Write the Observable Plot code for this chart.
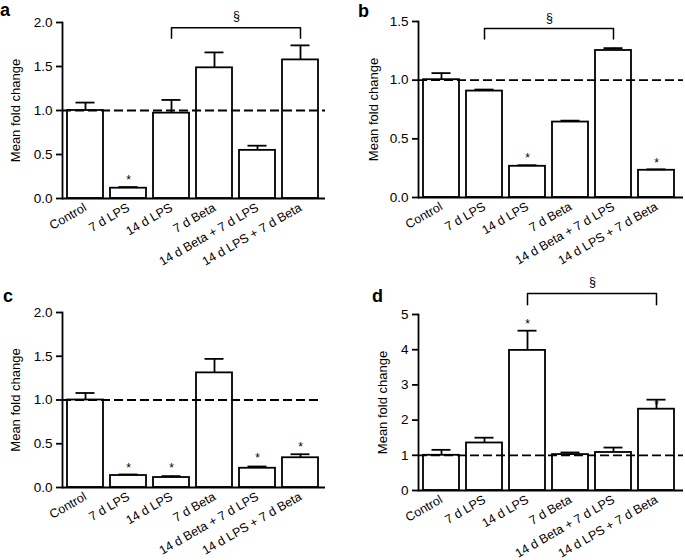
<!DOCTYPE html>
<html>
<head>
<meta charset="utf-8">
<script src="https://cdn.jsdelivr.net/npm/d3@7"></script>
<script src="https://cdn.jsdelivr.net/npm/@observablehq/plot@0.6"></script>
<style>
  body { margin: 0; background: white; }
  #root { position: relative; width: 685px; height: 560px; overflow: hidden; font-family: "Liberation Sans", Arial, Helvetica, sans-serif; }
  .panel { position: absolute; }
  .letter { position: absolute; font-weight: bold; font-size: 18px; line-height: 1; }
</style>
</head>
<body>
<div id="root"></div>
<script>
const categories = ["Control", "7 d LPS", "14 d LPS", "7 d Beta", "14 d Beta + 7 d LPS", "14 d LPS + 7 d Beta"];

const aMean = [1.00, 0.117, 0.97, 1.485, 0.547, 1.575];
const aErr  = [1.09, 0.13, 1.12, 1.66, 0.60, 1.74];
const aStar = [null, 0.24, null, null, null, null];

const bMean = [1.004, 0.907, 0.266, 0.643, 1.253, 0.232];
const bErr  = [1.06, 0.92, 0.275, 0.655, 1.273, 0.24];
const bStar = [null, null, 0.36, null, null, 0.315];

const cMean = [1.00, 0.137, 0.114, 1.31, 0.22, 0.34];
const cErr  = [1.08, 0.149, 0.13, 1.47, 0.24, 0.38];
const cStar = [null, 0.25, 0.25, null, 0.37, 0.49];

const dMean = [1.00, 1.35, 3.98, 1.02, 1.08, 2.31];
const dErr  = [1.155, 1.50, 4.54, 1.08, 1.22, 2.58];
const dStar = [null, null, 4.80, null, null, 2.51];

const yTicks2 = [0, 0.5, 1, 1.5, 2];
const yTicks15 = [0, 0.5, 1, 1.5];
const yTicks5 = [0, 1, 2, 3, 4, 5];

const bracketA = {from: "14 d LPS", to: "14 d LPS + 7 d Beta", mid: "7 d Beta", level: 1.94, drop: 1.82, sym: 2.07};
const bracketB = {from: "7 d LPS", to: "14 d Beta + 7 d LPS", mid: "14 d LPS", level: 1.44, drop: 1.35, sym: 1.53};
const bracketD = {from: "14 d LPS", to: "14 d LPS + 7 d Beta", mid: "7 d Beta", level: 5.60, drop: 5.28, sym: 5.91};

const SW = 1.8;

function panel(cfg) {
  const data = categories.map((c, i) => ({cat: c, mean: cfg.mean[i], err: cfg.err[i], star: cfg.star[i]}));
  const stars = data.filter(d => d.star != null);
  const br = cfg.bracket;
  const brPts = br ? [
    {x: br.from, y: br.drop}, {x: br.from, y: br.level},
    {x: br.to, y: br.level}, {x: br.to, y: br.drop}
  ] : [];
  const marks = [
    Plot.barY(data, {x: "cat", y: "mean", fill: "white", stroke: "black", strokeWidth: SW}),
    Plot.ruleX(data, {x: "cat", y1: "mean", y2: "err", stroke: "black", strokeWidth: SW}),
    Plot.tickY(data, {x: "cat", y: "err", stroke: "black", strokeWidth: SW, insetLeft: 8.5, insetRight: 8.5}),
    Plot.ruleY([1], {stroke: "black", strokeDasharray: "9,4", strokeWidth: SW, insetRight: -cfg.dashExtend}),
    Plot.ruleY([0], {stroke: "black", strokeWidth: SW, insetRight: -cfg.extend}),
    Plot.frame({anchor: "left", stroke: "black", strokeWidth: SW}),
    Plot.axisY({ticks: cfg.ticks, tickFormat: cfg.fmt, tickSize: 6, tickPadding: 4, fontSize: 13.5, strokeWidth: SW, label: null}),
    Plot.axisX({tickSize: 0, tickRotate: -30, tickPadding: 8, fontSize: 12.5, label: null}),
    Plot.text(["Mean fold change"], {frameAnchor: "left", textAnchor: "middle", dx: cfg.labelDx, rotate: -90, fontSize: 13}),
    Plot.text(stars, {x: "cat", y: "star", text: () => "*", dy: 3, fontSize: 12})
  ];
  if (br) {
    marks.push(Plot.line(brPts, {x: "x", y: "y", stroke: "black", strokeWidth: 1.5}));
    marks.push(Plot.text([br], {x: "mid", y: "sym", text: () => "§", dx: 22, fontSize: 12.5}));
  }
  const svg = Plot.plot({
    width: cfg.width,
    height: 280,
    marginLeft: cfg.ml,
    marginRight: cfg.mr,
    marginTop: cfg.mt,
    marginBottom: cfg.mb,
    style: {fontFamily: '"Liberation Sans", Arial, Helvetica, sans-serif', color: "black", background: "transparent", overflow: "visible"},
    x: {domain: categories, paddingInner: 0.17, paddingOuter: 0.05, axis: null},
    y: {domain: cfg.domain, axis: null},
    marks
  });
  const wrap = document.createElement("div");
  wrap.className = "panel";
  wrap.style.left = cfg.left + "px";
  wrap.style.top = cfg.top + "px";
  wrap.appendChild(svg);
  document.getElementById("root").appendChild(wrap);
}

panel({left: 0, top: 0, width: 342, ml: 62, mr: 20, mt: 22, mb: 82, domain: [0, 2], ticks: yTicks2, fmt: ".1f",
  mean: aMean, err: aErr, star: aStar, bracket: bracketA, labelDx: -47, extend: 3, dashExtend: 3});
panel({left: 342, top: 0, width: 343, ml: 76, mr: 7, mt: 21, mb: 83, domain: [0, 1.5], ticks: yTicks15, fmt: ".1f",
  mean: bMean, err: bErr, star: bStar, bracket: bracketB, labelDx: -45, extend: 5, dashExtend: 5});
panel({left: 0, top: 280, width: 342, ml: 62, mr: 20, mt: 32, mb: 73, domain: [0, 2], ticks: yTicks2, fmt: ".1f",
  mean: cMean, err: cErr, star: cStar, bracket: null, labelDx: -47, extend: 3, dashExtend: -2});
panel({left: 342, top: 280, width: 343, ml: 76, mr: 7, mt: 34, mb: 70, domain: [0, 5], ticks: yTicks5, fmt: "d",
  mean: dMean, err: dErr, star: dStar, bracket: bracketD, labelDx: -36, extend: 5, dashExtend: 5});

const letters = [["a", 0, 1], ["b", 358, 2], ["c", 3, 287], ["d", 372, 287]];
for (const [t, x, y] of letters) {
  const el = document.createElement("div");
  el.className = "letter";
  el.textContent = t;
  el.style.left = x + "px";
  el.style.top = y + "px";
  document.getElementById("root").appendChild(el);
}
</script>
</body>
</html>
